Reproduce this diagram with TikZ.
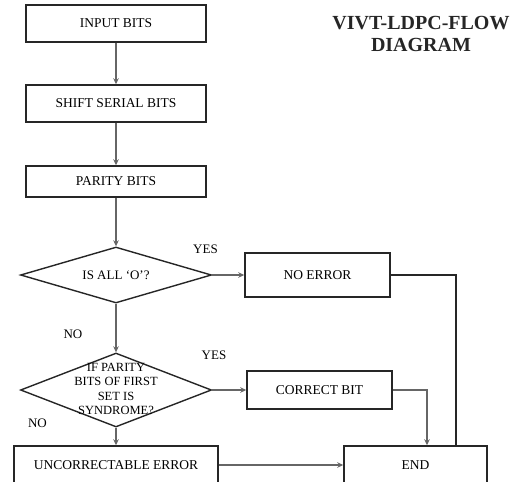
\documentclass[tikz,border=0pt]{standalone}
\usepackage{fontspec}
\setmainfont{Liberation Serif}
\usetikzlibrary{shapes.geometric,arrows.meta}
\begin{document}
\begin{tikzpicture}[x=1pt,y=-1pt,
  box/.style={draw=black!85,line width=1.5pt,rectangle,inner sep=0pt,font=\fontsize{13.5}{15}\selectfont},
  dec/.style={draw=black!85,line width=1.4pt,diamond,inner sep=0pt},
  lab/.style={font=\fontsize{13}{15}\selectfont,inner sep=0pt},
  arr/.style={draw=black!60,line width=1.1pt,-{Stealth[length=6pt,width=5.5pt]}},
  plain/.style={draw=black!85,line width=1.5pt}]
\useasboundingbox (0,0) rectangle (517,482);
\clip (0,0) rectangle (517,482);
\node[box,minimum width=180pt,minimum height=37pt] (in) at (116,23.5) {INPUT BITS};
\node[box,minimum width=180pt,minimum height=37pt] (shift) at (116,103.5) {SHIFT SERIAL BITS};
\node[box,minimum width=180pt,minimum height=31pt] (par) at (116,181.5) {PARITY BITS};
\node[dec,minimum width=191pt,minimum height=56pt] (d1) at (116,275) {};
\node[lab] (d1t) at (d1.center) {IS ALL `O'?};
\node[box,minimum width=145pt,minimum height=44pt] (noerr) at (317.5,275) {NO ERROR};
\node[dec,minimum width=191pt,minimum height=74pt] (d2) at (116,390) {};
\node[lab,align=center,font=\fontsize{12.5}{14.5}\selectfont] (d2t) at (116,389) {IF PARITY\\BITS OF FIRST\\SET IS\\SYNDROME?};
\node[box,minimum width=145pt,minimum height=38pt] (corr) at (319.5,390) {CORRECT BIT};
\node[box,minimum width=204pt,minimum height=38pt] (unc) at (116,465) {UNCORRECTABLE ERROR};
\node[box,minimum width=143pt,minimum height=38pt] (end) at (415.5,465) {END};
\node[font=\bfseries\fontsize{20}{22}\selectfont,align=center,text=black!85] (title) at (421,34) {VIVT-LDPC-FLOW\\DIAGRAM};
\node[lab] (yes1) at (205.5,249) {YES};
\node[lab] (no1) at (73,334) {NO};
\node[lab] (yes2) at (214,355) {YES};
\node[lab] (no2) at (37.5,423) {NO};
\draw[arr] (in) -- (shift);
\draw[arr] (shift) -- (par);
\draw[arr] (par) -- (d1.north);
\draw[arr] (d1.east) -- (noerr.west);
\draw[arr] (d1.south) -- (d2.north);
\draw[arr] (d2.east) -- (corr.west);
\draw[arr] (d2.south) -- (unc.north);
\draw[arr] (unc.east) -- (end.west);
\draw[plain] (noerr.east) -| ([xshift=40.5pt]end.north);
\draw[arr] (corr.east) -| ([xshift=11.5pt]end.north);
\end{tikzpicture}
\end{document}
